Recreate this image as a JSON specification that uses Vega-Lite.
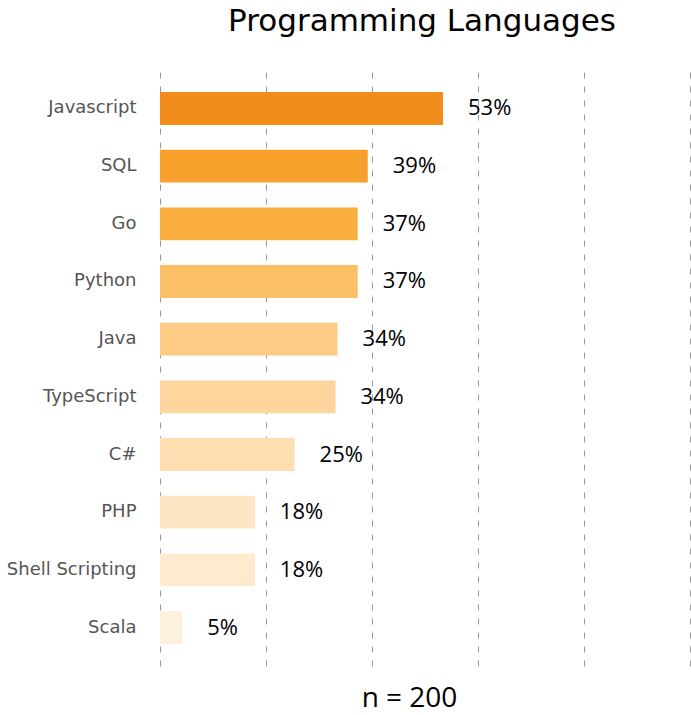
{
  "$schema": "https://vega.github.io/schema/vega-lite/v6.json",
  "autosize": {"type": "none"},
  "width": 530,
  "height": 596,
  "padding": {"left": 160, "top": 70, "right": 1, "bottom": 49},
  "title": {"text": "Programming Languages", "fontSize": 31, "font": "DejaVu Sans", "fontWeight": "normal", "color": "#000000", "anchor": "middle", "offset": 32, "dx": -3},
  "config": {"view": {"stroke": null}, "font": "DejaVu Sans"},
  "data": {
    "values": [
      {"language": "Javascript", "value": 53.4, "label": "53%"},
      {"language": "SQL", "value": 39.2, "label": "39%"},
      {"language": "Go", "value": 37.3, "label": "37%"},
      {"language": "Python", "value": 37.3, "label": "37%"},
      {"language": "Java", "value": 33.5, "label": "34%"},
      {"language": "TypeScript", "value": 33.1, "label": "34%"},
      {"language": "C#", "value": 25.4, "label": "25%"},
      {"language": "PHP", "value": 17.9, "label": "18%"},
      {"language": "Shell Scripting", "value": 17.9, "label": "18%"},
      {"language": "Scala", "value": 4.2, "label": "5%"}
    ]
  },
  "encoding": {
    "y": {
      "field": "language", "type": "nominal", "sort": null,
      "scale": {"paddingInner": 0.43, "paddingOuter": 0.382},
      "axis": {"title": null, "ticks": false, "domain": false, "grid": false, "labelPadding": 24, "labelFontSize": 18, "labelColor": "#555555", "labelFont": "DejaVu Sans"}
    },
    "x": {
      "field": "value", "type": "quantitative",
      "scale": {"domain": [0, 100]},
      "axis": {"values": [0, 20, 40, 60, 80, 100], "labels": false, "ticks": false, "domain": false, "grid": true, "gridDash": [6, 8], "gridColor": "#999999", "gridWidth": 1, "title": "n = 200", "titleFontSize": 28, "titleFontWeight": "normal", "titleColor": "#000000", "titleFont": "Open Sans", "titlePadding": 18, "titleX": 249}
    }
  },
  "layer": [
    {
      "mark": {"type": "bar"},
      "encoding": {
        "color": {
          "field": "language", "type": "nominal", "legend": null,
          "scale": {
            "domain": ["Javascript", "SQL", "Go", "Python", "Java", "TypeScript", "C#", "PHP", "Shell Scripting", "Scala"],
            "range": ["#F28C1A", "#F7A02B", "#FAAE3F", "#FBBF66", "#FDCB86", "#FDD59D", "#FDDFB1", "#FDE5C4", "#FDEACF", "#FDF0DC"]
          }
        }
      }
    },
    {
      "mark": {"type": "text", "align": "left", "baseline": "middle", "dx": 25, "fontSize": 22, "color": "#000000", "font": "Open Sans"},
      "encoding": {"text": {"field": "label", "type": "nominal"}}
    }
  ]
}
